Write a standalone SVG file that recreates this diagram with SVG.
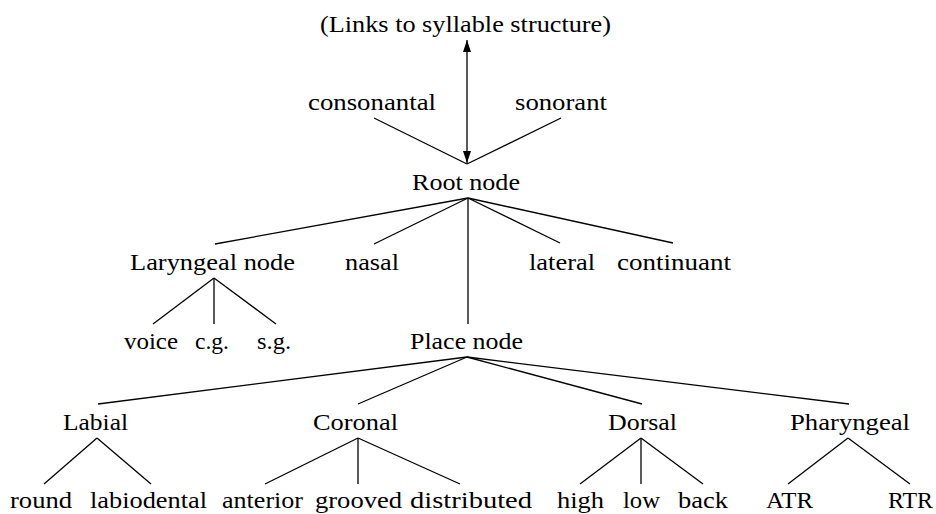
<svg xmlns="http://www.w3.org/2000/svg" width="936" height="514" viewBox="0 0 936 514">
<style>
text{font-family:"Liberation Serif","Times New Roman",serif;font-size:24px;fill:#000;text-anchor:middle}
.c line{stroke:#000;stroke-width:1.3;fill:none}
</style>
<defs>
<marker id="ah" viewBox="0 0 12 8" refX="12" refY="4" markerWidth="12" markerHeight="8" markerUnits="userSpaceOnUse" orient="auto-start-reverse">
<path d="M0,0 L12,4 L0,8 Z" fill="#000"/>
</marker>
</defs>
<rect width="936" height="514" fill="#fff"/>
<g id="connectors" class="c">
<line x1="467" y1="40" x2="467" y2="163" marker-start="url(#ah)" marker-end="url(#ah)"/>
<line x1="374" y1="118" x2="467" y2="164"/>
<line x1="561" y1="118" x2="467" y2="164"/>
<line x1="468" y1="198" x2="215" y2="244"/>
<line x1="468" y1="198" x2="374" y2="244"/>
<line x1="468" y1="198" x2="468" y2="324"/>
<line x1="468" y1="198" x2="560" y2="243"/>
<line x1="468" y1="198" x2="673" y2="243"/>
<line x1="214" y1="278" x2="153" y2="324"/>
<line x1="214" y1="278" x2="214" y2="324"/>
<line x1="214" y1="278" x2="276" y2="324"/>
<line x1="467" y1="357" x2="98" y2="404"/>
<line x1="467" y1="357" x2="358" y2="404"/>
<line x1="467" y1="357" x2="642" y2="404"/>
<line x1="467" y1="357" x2="849" y2="404"/>
<line x1="97" y1="438" x2="44" y2="484"/>
<line x1="97" y1="438" x2="151" y2="484"/>
<line x1="358" y1="438" x2="265" y2="484"/>
<line x1="358" y1="438" x2="358" y2="484"/>
<line x1="358" y1="438" x2="460" y2="484"/>
<line x1="641" y1="438" x2="580" y2="484"/>
<line x1="641" y1="438" x2="641" y2="484"/>
<line x1="641" y1="438" x2="703" y2="484"/>
<line x1="848" y1="438" x2="788" y2="484"/>
<line x1="848" y1="438" x2="910" y2="484"/>
</g>
<g id="syllable"><text x="465.5" y="32" textLength="291" lengthAdjust="spacingAndGlyphs">(Links to syllable structure)</text></g>
<g id="consonantal"><text x="372" y="110" textLength="128" lengthAdjust="spacingAndGlyphs">consonantal</text></g>
<g id="sonorant"><text x="561" y="110" textLength="92" lengthAdjust="spacingAndGlyphs">sonorant</text></g>
<g id="root"><text x="466" y="190" textLength="108" lengthAdjust="spacingAndGlyphs">Root node</text></g>
<g id="laryngeal"><text x="212.5" y="270" textLength="165" lengthAdjust="spacingAndGlyphs">Laryngeal node</text></g>
<g id="nasal"><text x="372" y="270" textLength="54" lengthAdjust="spacingAndGlyphs">nasal</text></g>
<g id="lateral"><text x="562" y="270" textLength="66" lengthAdjust="spacingAndGlyphs">lateral</text></g>
<g id="continuant"><text x="674" y="270" textLength="114" lengthAdjust="spacingAndGlyphs">continuant</text></g>
<g id="voice"><text x="151" y="349" textLength="54" lengthAdjust="spacingAndGlyphs">voice</text></g>
<g id="cg"><text x="212" y="349" textLength="34" lengthAdjust="spacingAndGlyphs">c.g.</text></g>
<g id="sg"><text x="274" y="349" textLength="34" lengthAdjust="spacingAndGlyphs">s.g.</text></g>
<g id="place"><text x="466.5" y="349" textLength="113" lengthAdjust="spacingAndGlyphs">Place node</text></g>
<g id="labial"><text x="95.5" y="430" textLength="65" lengthAdjust="spacingAndGlyphs">Labial</text></g>
<g id="coronal"><text x="355.5" y="430" textLength="85" lengthAdjust="spacingAndGlyphs">Coronal</text></g>
<g id="dorsal"><text x="642.5" y="430" textLength="69" lengthAdjust="spacingAndGlyphs">Dorsal</text></g>
<g id="pharyngeal"><text x="850" y="430" textLength="120" lengthAdjust="spacingAndGlyphs">Pharyngeal</text></g>
<g id="round"><text x="41" y="508" textLength="62" lengthAdjust="spacingAndGlyphs">round</text></g>
<g id="labiodental"><text x="148.5" y="508" textLength="117" lengthAdjust="spacingAndGlyphs">labiodental</text></g>
<g id="anterior"><text x="262.5" y="508" textLength="81" lengthAdjust="spacingAndGlyphs">anterior</text></g>
<g id="grooved"><text x="358.5" y="508" textLength="87" lengthAdjust="spacingAndGlyphs">grooved</text></g>
<g id="distributed"><text x="471" y="508" textLength="122" lengthAdjust="spacingAndGlyphs">distributed</text></g>
<g id="high"><text x="580.5" y="508" textLength="47" lengthAdjust="spacingAndGlyphs">high</text></g>
<g id="low"><text x="641.5" y="508" textLength="37" lengthAdjust="spacingAndGlyphs">low</text></g>
<g id="back"><text x="703" y="508" textLength="50" lengthAdjust="spacingAndGlyphs">back</text></g>
<g id="atr"><text x="789.5" y="508" textLength="47" lengthAdjust="spacingAndGlyphs">ATR</text></g>
<g id="rtr"><text x="910.5" y="508" textLength="45" lengthAdjust="spacingAndGlyphs">RTR</text></g>
</svg>
